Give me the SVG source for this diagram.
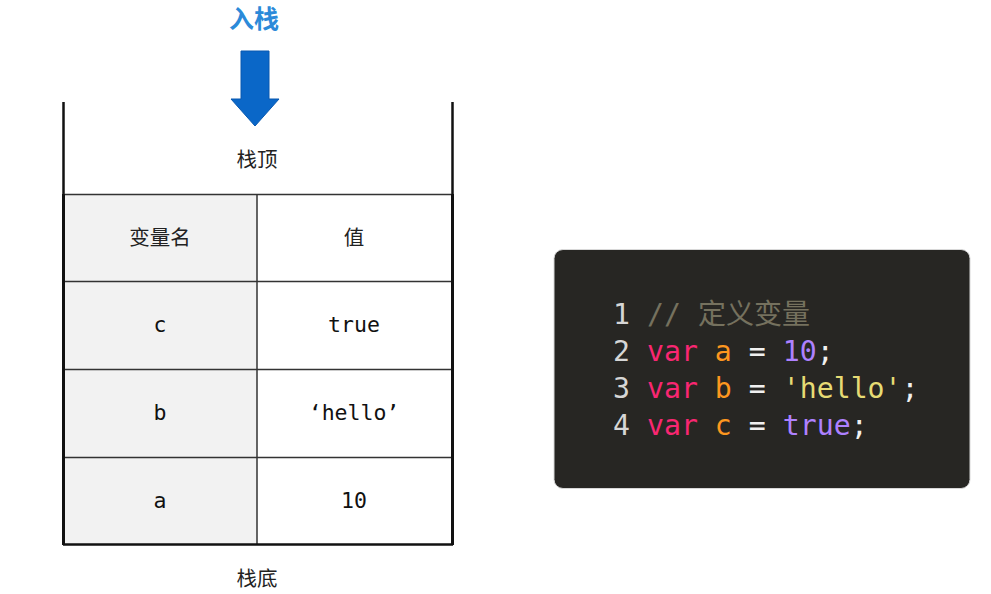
<svg xmlns="http://www.w3.org/2000/svg" width="991" height="594" viewBox="0 0 991 594">
<style>
.cjk{font-family:"Noto Sans CJK SC","Noto Sans",sans-serif;fill:#222;font-size:20.5px;text-anchor:middle}
.mono{font-family:"DejaVu Sans Mono","Liberation Mono",monospace;fill:#111;font-size:21.5px;text-anchor:middle}
.code{font-family:"DejaVu Sans Mono","Liberation Mono",monospace;font-size:28.2px}
.ln{fill:#d6d6d6}.cm{fill:#75715e}.kw{fill:#f92672}.id{fill:#fd971f}.num{fill:#ae81ff}.str{fill:#e6db74}.op{fill:#f0f0f0}
.grid{stroke:#333;stroke-width:1.5;fill:none}
</style>
<rect width="991" height="594" fill="#ffffff"/>
<g id="push-label">
<text x="254" y="28" font-family="'Noto Sans CJK SC',sans-serif" font-size="25" font-weight="bold" fill="#2b8ad9" text-anchor="middle">入栈</text>
</g>
<g id="push-arrow">
<polygon points="241,51 269,51 269,99 279,99 255,126 231,99 241,99" fill="#0a67c8" stroke="#0858b0" stroke-width="1"/>
</g>
<g id="stack">
<line x1="63.5" y1="102" x2="63.5" y2="194" stroke="#111" stroke-width="2.5"/>
<line x1="452.5" y1="102" x2="452.5" y2="194" stroke="#111" stroke-width="2.5"/>
<text class="cjk" x="257" y="167">栈顶</text>
<text class="cjk" x="257" y="586">栈底</text>
</g>
<g id="table">
<rect x="63" y="194" width="194" height="351" fill="#f2f2f2"/>
<rect x="257" y="194" width="195" height="351" fill="#ffffff"/>
<line class="grid" x1="63" y1="194.5" x2="452" y2="194.5"/>
<line class="grid" x1="63" y1="281.5" x2="452" y2="281.5"/>
<line class="grid" x1="63" y1="369.5" x2="452" y2="369.5"/>
<line class="grid" x1="63" y1="457.5" x2="452" y2="457.5"/>
<line class="grid" x1="257" y1="194" x2="257" y2="545"/>
<line x1="63" y1="544.5" x2="453" y2="544.5" stroke="#111" stroke-width="2.5"/>
<line x1="63.5" y1="194" x2="63.5" y2="545" stroke="#111" stroke-width="3"/>
<line x1="452.5" y1="194" x2="452.5" y2="545" stroke="#111" stroke-width="3"/>
<g id="row-header">
<text class="cjk" x="160" y="245">变量名</text>
<text class="cjk" x="354" y="245">值</text>
</g>
<g id="row-c">
<text class="mono" x="160" y="332">c</text>
<text class="mono" x="354" y="332">true</text>
</g>
<g id="row-b">
<text class="mono" x="160" y="420">b</text>
<text class="mono" x="354" y="420">‘hello’</text>
</g>
<g id="row-a">
<text class="mono" x="160" y="508">a</text>
<text class="mono" x="354" y="508">10</text>
</g>
</g>
<g id="code-box">
<rect x="554" y="249.5" width="416" height="239" rx="9" fill="#272623" stroke="#d8d8d8" stroke-width="1"/>
<text class="code" x="613" y="324" xml:space="preserve"><tspan class="ln">1 </tspan><tspan class="cm">// </tspan><tspan class="cm" font-family="'Noto Sans CJK SC',sans-serif" font-size="28">定义变量</tspan></text>
<text class="code" x="613" y="361" xml:space="preserve"><tspan class="ln">2 </tspan><tspan class="kw">var </tspan><tspan class="id">a </tspan><tspan class="op">= </tspan><tspan class="num">10</tspan><tspan class="op">;</tspan></text>
<text class="code" x="613" y="398" xml:space="preserve"><tspan class="ln">3 </tspan><tspan class="kw">var </tspan><tspan class="id">b </tspan><tspan class="op">= </tspan><tspan class="str">'hello'</tspan><tspan class="op">;</tspan></text>
<text class="code" x="613" y="435" xml:space="preserve"><tspan class="ln">4 </tspan><tspan class="kw">var </tspan><tspan class="id">c </tspan><tspan class="op">= </tspan><tspan class="num">true</tspan><tspan class="op">;</tspan></text>
</g>
</svg>
